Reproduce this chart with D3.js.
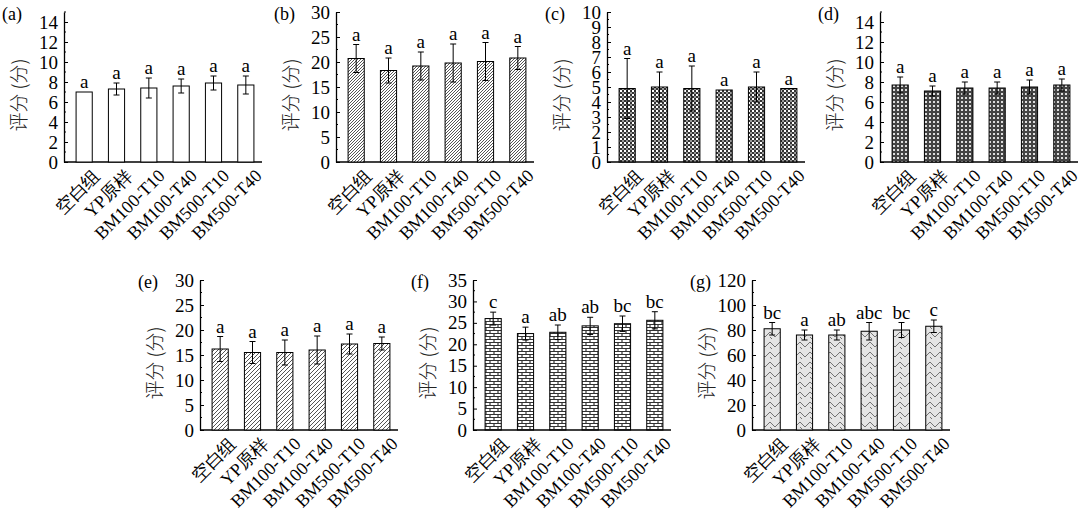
<!DOCTYPE html>
<html><head><meta charset="utf-8">
<script src="https://cdn.jsdelivr.net/npm/d3@7"></script>
<style>body{margin:0;background:#fff}text{font-family:"Liberation Serif","Times New Roman",serif}</style>
</head><body><svg id="c" width="1080" height="516"></svg>
<script>
var categories = ["空白组", "YP原样", "BM100-T10", "BM100-T40", "BM500-T10", "BM500-T40"];
var panelNames = ["(a)", "(b)", "(c)", "(d)", "(e)", "(f)", "(g)"];
var yMax = [15, 30, 10, 15, 30, 35, 120];
var yStep = [2, 5, 1, 2, 5, 5, 20];
var means = [
  [7.0, 7.3, 7.4, 7.6, 7.9, 7.7],
  [20.7, 18.3, 19.2, 19.8, 20.1, 20.8],
  [4.9, 5.0, 4.9, 4.8, 5.0, 4.9],
  [7.7, 7.1, 7.4, 7.4, 7.5, 7.7],
  [16.2, 15.5, 15.5, 16.0, 17.2, 17.3],
  [26.0, 22.5, 22.8, 24.3, 24.8, 25.6],
  [81, 76, 76, 79, 80, 83]
];
var errs = [
  [0, 0.6, 1.0, 0.7, 0.7, 0.9],
  [2.8, 2.5, 2.8, 3.8, 3.8, 2.3],
  [2.0, 1.0, 1.5, 0, 1.0, 0],
  [0.8, 0.5, 0.6, 0.6, 0.7, 0.6],
  [2.5, 2.2, 2.5, 2.8, 2.0, 1.3],
  [1.5, 1.5, 1.7, 2.0, 1.8, 2.0],
  [5, 4, 4, 7, 6, 5]
];
var letters = [
  ["a", "a", "a", "a", "a", "a"],
  ["a", "a", "a", "a", "a", "a"],
  ["a", "a", "a", "a", "a", "a"],
  ["a", "a", "a", "a", "a", "a"],
  ["a", "a", "a", "a", "a", "a"],
  ["c", "a", "ab", "ab", "bc", "bc"],
  ["bc", "a", "ab", "abc", "bc", "c"]
];

var svg = d3.select("#c");
var defs = svg.append("defs");

// fill patterns, one per panel
function pat(id, w, h, draw) {
  var p = defs.append("pattern").attr("id", id).attr("patternUnits", "userSpaceOnUse")
    .attr("width", w).attr("height", h);
  p.append("rect").attr("width", w).attr("height", h).attr("fill", "#fff");
  draw(p);
}
pat("p1", 3, 3, function (p) {
  p.append("path").attr("d", "M0,3 L3,0 M-1,1 L1,-1 M2,4 L4,2").attr("stroke", "#555").attr("stroke-width", 1);
});
pat("p2", 4, 4, function (p) {
  p.append("rect").attr("width", 2).attr("height", 2).attr("fill", "#333");
  p.append("rect").attr("x", 2).attr("y", 2).attr("width", 2).attr("height", 2).attr("fill", "#333");
  p.append("rect").attr("x", 2).attr("width", 2).attr("height", 2).attr("fill", "#999");
});
pat("p3", 4, 4, function (p) {
  p.append("rect").attr("width", 4).attr("height", 4).attr("fill", "#444");
  p.append("rect").attr("x", 1).attr("y", 1).attr("width", 2).attr("height", 2).attr("fill", "#ddd");
});
pat("p4", 4, 4, function (p) {
  p.append("path").attr("d", "M0,4 L4,0 M-1,1 L1,-1 M3,5 L5,3").attr("stroke", "#555").attr("stroke-width", 1);
});
pat("p5", 8, 6, function (p) {
  p.append("path").attr("d", "M0,0.5 H8 M0,3.5 H8 M2,0 V3 M6,3 V6").attr("stroke", "#333").attr("stroke-width", 1.2);
});
pat("p6", 10, 10, function (p) {
  p.append("rect").attr("width", 10).attr("height", 10).attr("fill", "#e4e4e4");
  p.append("path").attr("d", "M0,2 L5,7 L10,2 M0,7 L2,9").attr("stroke", "#666").attr("fill", "none").attr("stroke-width", 0.9);
});
var fills = ["#fff", "url(#p1)", "url(#p2)", "url(#p3)", "url(#p4)", "url(#p5)", "url(#p6)"];

var axisXs = [64, 336, 607, 880, 200, 473, 752];
var zeroY = [162, 162, 162, 162, 430, 430, 430];
var topY = [12, 12, 12, 12, 280, 280, 280];
var axisW = 198;

panelNames.forEach(function (name, i) {
  var g = svg.append("g");
  var x = d3.scaleBand().domain(categories).range([axisXs[i] + 4, axisXs[i] + axisW])
    .paddingInner(0.5).paddingOuter(0.25);
  var y = d3.scaleLinear().domain([0, yMax[i]]).range([zeroY[i], topY[i]]);

  var majors = d3.range(0, yMax[i] + 1e-9, yStep[i]);
  var minors = d3.range(yStep[i] / 2, yMax[i] + 1e-9, yStep[i]);
  var ya = g.append("g").attr("transform", "translate(" + axisXs[i] + ",0)")
    .call(d3.axisLeft(y).tickValues(majors).tickSize(4).tickSizeOuter(0).tickPadding(2));
  ya.selectAll("text").attr("font-size", 19).attr("fill", "#000");
  ya.select(".domain").attr("stroke", "#000").attr("stroke-width", 1.3);
  ya.selectAll(".tick line").attr("x2", 4);
  g.selectAll(".minor").data(minors).enter().append("line")
    .attr("x1", axisXs[i]).attr("x2", axisXs[i] + 2)
    .attr("y1", function (d) { return y(d); }).attr("y2", function (d) { return y(d); })
    .attr("stroke", "#000");

  g.append("line").attr("x1", axisXs[i]).attr("x2", axisXs[i] + axisW)
    .attr("y1", zeroY[i]).attr("y2", zeroY[i]).attr("stroke", "#000").attr("stroke-width", 1.3);

  g.selectAll(".xl").data(categories).enter().append("text")
    .attr("transform", function (d) {
      return "translate(" + (x(d) + x.bandwidth() / 2 + 8) + "," + (zeroY[i] + 6) + ") rotate(-45)";
    })
    .attr("text-anchor", "end").attr("dy", "0.7em").attr("font-size", 18).text(function (d) { return d; });

  g.append("text").attr("transform", "translate(" + (axisXs[i] - 38) + "," + ((zeroY[i] + topY[i]) / 2 + 8) + ") rotate(-90)")
    .attr("text-anchor", "middle").attr("font-size", 19)
    .style("font-family", "'Noto Sans CJK SC',serif").style("font-weight", 300).attr("fill", "#222").text("评分 (分)");

  g.append("text").attr("x", axisXs[i] - 62).attr("y", topY[i] + 8).attr("font-size", 18).text(name);

  var vals = means[i];
  g.selectAll(".bar").data(vals).enter().append("rect")
    .attr("x", function (d, j) { return x(categories[j]); })
    .attr("width", x.bandwidth())
    .attr("y", function (d) { return y(d); })
    .attr("height", function (d) { return zeroY[i] - y(d); })
    .attr("fill", fills[i]).attr("stroke", "#000").attr("stroke-width", 1);

  g.selectAll(".err").data(vals).enter().append("path")
    .attr("d", function (d, j) {
      var cx = x(categories[j]) + x.bandwidth() / 2, e = errs[i][j];
      if (!e) return "";
      var t = y(d + e), b = y(d - e);
      return "M" + cx + "," + t + "V" + b + "M" + (cx - 3) + "," + t + "H" + (cx + 3) + "M" + (cx - 3) + "," + b + "H" + (cx + 3);
    })
    .attr("stroke", "#000").attr("fill", "none");

  g.selectAll(".let").data(vals).enter().append("text")
    .attr("x", function (d, j) { return x(categories[j]) + x.bandwidth() / 2; })
    .attr("y", function (d, j) { return y(d + errs[i][j]) - 4; })
    .attr("text-anchor", "middle").attr("font-size", 19).text(function (d, j) { return letters[i][j]; });
});
</script></body></html>
